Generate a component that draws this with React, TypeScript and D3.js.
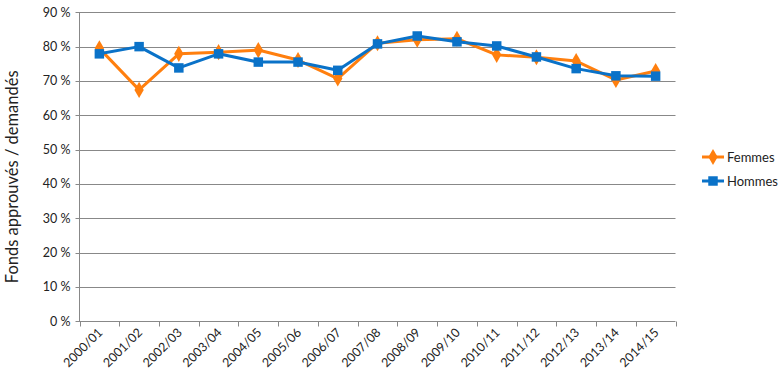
import React, { useEffect, useRef } from "react";
import * as d3 from "d3";

const categories = ["2000/01","2001/02","2002/03","2003/04","2004/05","2005/06","2006/07","2007/08","2008/09","2009/10","2010/11","2011/12","2012/13","2013/14","2014/15"];
const femmes = [79.5, 67.4, 77.9, 78.4, 79.0, 76.1, 70.7, 81.0, 82.0, 82.3, 77.6, 76.9, 75.8, 70.3, 72.9];
const hommes = [77.9, 80.0, 73.8, 77.9, 75.5, 75.5, 73.1, 80.8, 83.1, 81.4, 80.2, 77.0, 73.6, 71.5, 71.4];
const yTicks = [0, 10, 20, 30, 40, 50, 60, 70, 80, 90];
const seriesNames = ["Femmes", "Hommes"];

const ORANGE = "#FF7F0E";
const BLUE = "#0A72C8";
const FONT = "Lato, 'Open Sans', sans-serif";

export default function App() {
  const ref = useRef<SVGSVGElement>(null);
  useEffect(() => {
    const svg = d3.select(ref.current);
    svg.selectAll("*").remove();
    const left = 79.5, right = 675.5, top = 12.3, bottom = 321.3;
    const x = d3.scaleBand().domain(categories).range([left, right]);
    const y = d3.scaleLinear().domain([0, 90]).range([bottom, top]);
    const g = svg.append("g");

    g.selectAll("line.grid").data(yTicks).enter().append("line")
      .attr("x1", left - 4).attr("x2", right)
      .attr("y1", d => Math.round(y(d)) + 0.5).attr("y2", d => Math.round(y(d)) + 0.5)
      .attr("stroke", "#888").attr("stroke-width", 1);
    g.append("line").attr("x1", left).attr("x2", left).attr("y1", y(90)).attr("y2", y(0))
      .attr("stroke", "#888");
    g.selectAll("text.yt").data(yTicks).enter().append("text")
      .attr("x", left - 9).attr("y", d => y(d)).attr("dy", "0.35em")
      .attr("text-anchor", "end").attr("font-family", FONT).attr("font-size", 12.5).attr("fill", "#222")
      .text(d => `${d} %`);
    const bounds = categories.map(c => x(c)!).concat([right]);
    g.selectAll("line.xt").data(bounds).enter().append("line")
      .attr("x1", d => Math.round(d) + 0.5).attr("x2", d => Math.round(d) + 0.5)
      .attr("y1", Math.round(bottom) + 0.5).attr("y2", Math.round(bottom) + 5.5)
      .attr("stroke", "#888");
    g.selectAll("text.xl").data(categories).enter().append("text")
      .attr("transform", d => `translate(${x(d)! + x.bandwidth() / 2 + 4},${bottom + 12}) rotate(-45)`)
      .attr("text-anchor", "end").attr("font-family", FONT).attr("font-size", 12.5).attr("fill", "#222")
      .text(d => d);
    g.append("text")
      .attr("transform", `translate(18,${(top + bottom) / 2 + 10}) rotate(-90)`)
      .attr("text-anchor", "middle").attr("font-family", FONT).attr("font-size", 16.5).attr("fill", "#222")
      .text("Fonds approuvés / demandés");

    const cx = (i: number) => x(categories[i])! + x.bandwidth() / 2;
    const line = d3.line<number>().x((_, i) => cx(i)).y(d => y(d));
    const diamond = d3.symbol().type(d3.symbolDiamond).size(75);
    const square = d3.symbol().type(d3.symbolSquare).size(90);

    const drawSeries = (vals: number[], color: string, sym: any) => {
      g.append("path").datum(vals).attr("d", line).attr("fill", "none")
        .attr("stroke", color).attr("stroke-width", 3).attr("stroke-linejoin", "round");
      g.selectAll(null).data(vals).enter().append("path")
        .attr("d", sym()).attr("transform", (d, i) => `translate(${cx(i)},${y(d)})`)
        .attr("fill", color);
    };
    drawSeries(femmes, ORANGE, diamond);
    drawSeries(hommes, BLUE, square);

    const legend = [
      { name: seriesNames[0], color: ORANGE, sym: diamond, y: 157 },
      { name: seriesNames[1], color: BLUE, sym: square, y: 181 },
    ];
    legend.forEach(l => {
      g.append("line").attr("x1", 702).attr("x2", 724).attr("y1", l.y).attr("y2", l.y)
        .attr("stroke", l.color).attr("stroke-width", 3);
      g.append("path").attr("d", l.sym()).attr("transform", `translate(713,${l.y})`).attr("fill", l.color);
      g.append("text").attr("x", 727).attr("y", l.y).attr("dy", "0.35em")
        .attr("font-family", FONT).attr("font-size", 13).attr("fill", "#222").text(l.name);
    });
  }, []);
  return (
    <svg ref={ref} width={783} height={384} style={{ position: "absolute", left: 0, top: 0, background: "#fff" }} />
  );
}
